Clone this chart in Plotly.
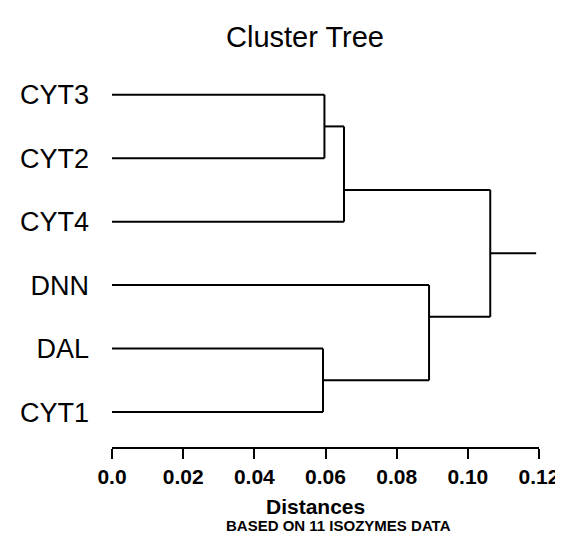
import plotly.graph_objects as go

# ---- data ----
leaves = ["CYT3", "CYT2", "CYT4", "DNN", "DAL", "CYT1"]
# merges: (left child, right child, joining distance); new nodes named N0, N1, ...
merge_left = ["CYT3", "N0", "DAL", "DNN", "N1"]
merge_right = ["CYT2", "CYT4", "CYT1", "N2", "N3"]
merge_dist = [0.0597, 0.0652, 0.0593, 0.0891, 0.1063]
root_tail = 0.1192
x_ticks = [0.0, 0.02, 0.04, 0.06, 0.08, 0.10, 0.12]
x_tick_labels = ["0.0", "0.02", "0.04", "0.06", "0.08", "0.10", "0.12"]

# ---- build dendrogram segments ----
pos = {name: float(i) for i, name in enumerate(leaves)}
size = {name: 1 for name in leaves}
height = {name: 0.0 for name in leaves}
xs, ys = [], []
for k, (a, b, d) in enumerate(zip(merge_left, merge_right, merge_dist)):
    for c in (a, b):
        xs += [height[c], d, None]
        ys += [pos[c], pos[c], None]
    xs += [d, d, None]
    ys += [pos[a], pos[b], None]
    name = f"N{k}"
    na, nb = size[a], size[b]
    pos[name] = (pos[a] * nb + pos[b] * na) / (na + nb)
    size[name] = na + nb
    height[name] = d
root = f"N{len(merge_dist) - 1}"
xs += [height[root], root_tail]
ys += [pos[root], pos[root]]

L, R, T, B = 104, 536, 60, 439
W, H = 563, 534

fig = go.Figure()
fig.add_trace(go.Scatter(x=xs, y=ys, mode="lines",
                         line=dict(color="black", width=2),
                         hoverinfo="skip", showlegend=False))

fig.update_layout(
    width=W, height=H,
    margin=dict(l=L, r=W - R, t=T, b=H - B),
    paper_bgcolor="white", plot_bgcolor="white",
    font=dict(family="Liberation Sans, Arial, sans-serif", color="black"),
    title=dict(text="Cluster Tree", x=297 / W, xref="container", xanchor="center",
               y=1 - 29 / H, yref="container", yanchor="middle",
               font=dict(size=29, color="black")),
)
fig.update_xaxes(
    range=[0, 0.12], tickvals=x_ticks, ticktext=x_tick_labels,
    showline=True, linecolor="black", linewidth=2,
    ticks="outside", ticklen=10, tickwidth=2, tickcolor="black",
    showgrid=False, zeroline=False,
    tickfont=dict(size=21, family="Liberation Sans, Arial, sans-serif", color="black", weight="bold"),
)
fig.update_yaxes(
    range=[5.55, -0.42], tickvals=list(range(len(leaves))), ticktext=leaves,
    showline=False, showgrid=False, zeroline=False, ticks="",
    ticklabelstandoff=22,
    tickfont=dict(size=27, color="black"),
)
fig.add_annotation(text="<b>Distances</b>", xref="paper", yref="paper",
                   x=(310 - L) / (R - L), y=-(498 - B) / (B - T), xanchor="center", yanchor="middle",
                   showarrow=False, font=dict(size=21, color="black"), borderpad=0)
fig.add_annotation(text="<b>BASED ON 11 ISOZYMES DATA</b>", xref="paper", yref="paper",
                   x=(333 - L) / (R - L), y=-(517 - B) / (B - T), xanchor="center", yanchor="middle",
                   showarrow=False, font=dict(size=15, color="black"), borderpad=0)

fig.write_html("out.html")
